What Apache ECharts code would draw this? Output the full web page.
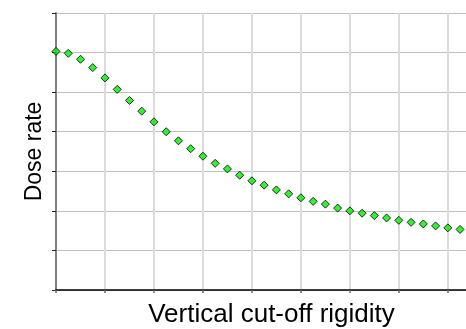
<!DOCTYPE html>
<html><head><meta charset="utf-8">
<script src="https://cdn.jsdelivr.net/npm/echarts@6/dist/echarts.min.js"></script>
<style>html,body{margin:0;padding:0;background:#fff}#c{width:466px;height:329px}</style>
</head><body><div id="c"></div>
<script>
const xValues = [0,0.25,0.5,0.75,1,1.25,1.5,1.75,2,2.25,2.5,2.75,3,3.25,3.5,3.75,4,4.25,4.5,4.75,5,5.25,5.5,5.75,6,6.25,6.5,6.75,7,7.25,7.5,7.75,8,8.25];
const doseRate = [6.03,5.98,5.83,5.62,5.36,5.07,4.79,4.52,4.25,4.0,3.77,3.57,3.38,3.2,3.06,2.9,2.76,2.65,2.53,2.43,2.33,2.24,2.17,2.07,2.0,1.94,1.88,1.82,1.76,1.71,1.67,1.62,1.57,1.53];
const xTitle = 'Vertical cut-off rigidity';
const yTitle = 'Dose rate';

const chart = echarts.init(document.getElementById('c'), null, {renderer:'canvas'});
chart.setOption({
  animation:false,
  backgroundColor:'#fff',
  grid:{left:56, top:13, right:-21, bottom:39, containLabel:false, outerBoundsMode:'none'},
  xAxis:{type:'value', min:0, max:8.8, interval:1,
    name:xTitle, nameLocation:'middle', nameGap:12,
    nameTextStyle:{fontFamily:'Liberation Sans, Arial', fontSize:26, color:'#000'},
    axisLine:{show:true, lineStyle:{color:'#000', width:1.5}},
    axisTick:{show:true, length:3, lineStyle:{color:'#666', width:1.5}},
    axisLabel:{show:false},
    splitLine:{show:true, lineStyle:{color:'#dcdcdc', width:2}}
  },
  yAxis:{type:'value', min:0, max:7, interval:1,
    name:yTitle, nameLocation:'middle', nameGap:10, nameRotate:90,
    nameTextStyle:{fontFamily:'Liberation Sans, Arial', fontSize:23, color:'#000'},
    axisLine:{show:true, lineStyle:{color:'#808080', width:2}},
    axisTick:{show:true, length:4, lineStyle:{color:'#222', width:1}},
    axisLabel:{show:false},
    splitLine:{show:true, lineStyle:{color:'#c0c0c0', width:1}}
  },
  series:[{type:'scatter', data:xValues.map((x,i)=>[x,doseRate[i]]),
    symbol:'diamond', symbolSize:8,
    itemStyle:{color:'#00ee00', borderColor:'#000', borderWidth:1}}]
});
</script></body></html>
